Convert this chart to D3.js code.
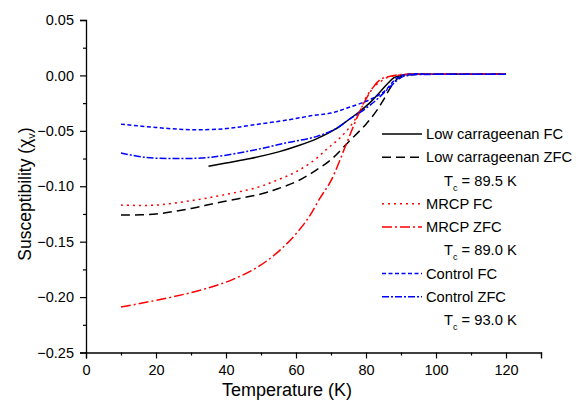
<!DOCTYPE html>
<html>
<head>
<meta charset="utf-8">
<script src="https://cdn.jsdelivr.net/npm/d3@7"></script>
<style>
  html, body { margin: 0; padding: 0; background: #fff; }
  svg { display: block; font-family: "Liberation Sans", Arial, sans-serif; }
</style>
</head>
<body>
<svg id="chart" width="576" height="400"></svg>
<script>
// ---- data ----
const lowFC_T   = [35, 40, 47, 55, 61, 66, 71, 75, 78, 81, 84, 86, 88, 90, 92, 100, 110, 120];
const lowFC_X   = [-0.082, -0.079, -0.075, -0.069, -0.063, -0.057, -0.049, -0.040, -0.033, -0.025, -0.015, -0.008, -0.002, 0.000, 0.001, 0.001, 0.001, 0.001];

const lowZFC_T  = [10, 20, 30, 39, 50, 55, 60, 65, 70, 75, 80, 83, 85, 87, 89, 91, 95, 100, 110, 120];
const lowZFC_X  = [-0.126, -0.125, -0.120, -0.114, -0.107, -0.102, -0.096, -0.087, -0.076, -0.060, -0.044, -0.032, -0.022, -0.011, -0.003, 0.000, 0.001, 0.001, 0.001, 0.001];

const mrcpFC_T  = [10, 20, 30, 39, 49, 55, 60, 65, 69, 72, 75, 78, 80, 82, 84, 86, 89, 92, 100, 110, 120];
const mrcpFC_X  = [-0.117, -0.117, -0.113, -0.108, -0.101, -0.094, -0.087, -0.077, -0.066, -0.058, -0.048, -0.034, -0.020, -0.011, -0.006, -0.002, 0.000, 0.001, 0.001, 0.001, 0.001];

const mrcpZFC_T = [10, 23, 33, 42, 50, 57, 63, 67, 70, 74.5, 78, 81, 84, 88, 92, 100, 110, 120];
const mrcpZFC_X = [-0.209, -0.201, -0.1935, -0.184, -0.171, -0.153, -0.131, -0.110, -0.095, -0.061, -0.034, -0.016, -0.004, 0.000, 0.001, 0.001, 0.001, 0.001];

const ctrlFC_T  = [10, 20, 30, 40, 47, 58, 65, 70, 75, 81, 85, 89, 92, 100, 110, 120];
const ctrlFC_X  = [-0.044, -0.047, -0.049, -0.048, -0.045, -0.040, -0.036, -0.034, -0.029, -0.022, -0.015, -0.002, 0.001, 0.001, 0.001, 0.001];

const ctrlZFC_T = [10, 17, 25, 35, 47, 57, 66, 72, 75, 79, 83, 86, 88, 90, 92, 100, 110, 120];
const ctrlZFC_X = [-0.070, -0.074, -0.075, -0.074, -0.068, -0.061, -0.055, -0.047, -0.040, -0.032, -0.022, -0.013, -0.007, -0.002, 0.000, 0.001, 0.001, 0.001];

const seriesNames = ["Low carrageenan FC", "Low carrageenan ZFC", "MRCP FC", "MRCP ZFC", "Control FC", "Control ZFC"];
const tcLabels = ["89.5 K", "89.0 K", "93.0 K"];

const xTicks = [0, 20, 40, 60, 80, 100, 120];
const xMinor = [10, 30, 50, 70, 90, 110, 130];
const yTicks = [0.05, 0.00, -0.05, -0.10, -0.15, -0.20, -0.25];
const yMinor = [0.025, -0.025, -0.075, -0.125, -0.175, -0.225];

const xTitle = "Temperature (K)";

// ---- styles ----
const styles = [
  { color: "#000000", dash: null },
  { color: "#000000", dash: "9,5" },
  { color: "#ff0000", dash: "2,4" },
  { color: "#ff0000", dash: "10,3,2,3" },
  { color: "#0000ff", dash: "4,2.5" },
  { color: "#0000ff", dash: "7,2,2,2" }
];

const series = [
  [lowFC_T, lowFC_X], [lowZFC_T, lowZFC_X],
  [mrcpFC_T, mrcpFC_X], [mrcpZFC_T, mrcpZFC_X],
  [ctrlFC_T, ctrlFC_X], [ctrlZFC_T, ctrlZFC_X]
].map((p, i) => ({ name: seriesNames[i], pts: p[0].map((t, j) => [t, p[1][j]]), style: styles[i] }));

const svg = d3.select("#chart");
const x = d3.scaleLinear().domain([0, 130]).range([86, 541]);
const y = d3.scaleLinear().domain([-0.25, 0.05]).range([352.5, 20]);

// axes
const gx = svg.append("g").attr("transform", `translate(0,${y(-0.25)})`)
  .call(d3.axisBottom(x).tickValues(xTicks).tickFormat(d3.format("d")).tickSize(6).tickPadding(3));
svg.append("g").attr("transform", `translate(0,${y(-0.25)})`)
  .call(d3.axisBottom(x).tickValues(xMinor).tickFormat("").tickSize(3))
  .select(".domain").remove();
const gy = svg.append("g").attr("transform", `translate(${x(0)},0)`)
  .call(d3.axisLeft(y).tickValues(yTicks).tickFormat(d3.format(".2f")).tickSize(6).tickPadding(6));
svg.append("g").attr("transform", `translate(${x(0)},0)`)
  .call(d3.axisLeft(y).tickValues(yMinor).tickFormat("").tickSize(3))
  .select(".domain").remove();

svg.selectAll(".domain").attr("stroke", "#000").attr("stroke-width", 1.3);
svg.selectAll(".tick line").attr("stroke", "#000").attr("stroke-width", 1.2);
svg.selectAll(".tick text").attr("font-size", 14.5).attr("fill", "#000")
  .attr("font-family", "'Liberation Sans', Arial, sans-serif");
gx.selectAll(".tick text").attr("dy", "0.9em");

// axis titles
svg.append("text").attr("x", 287).attr("y", 396).attr("text-anchor", "middle")
  .attr("font-size", 18).text(xTitle);

const yt = svg.append("text").attr("transform", "translate(31,194) rotate(-90)")
  .attr("text-anchor", "middle").attr("font-size", 17.5);
yt.append("tspan").text("Susceptibility (\u03C7");
yt.append("tspan").attr("font-size", 11).attr("dy", 4).text("v");
yt.append("tspan").attr("dy", -4).text(")");

// lines
const line = d3.line().x(d => x(d[0])).y(d => y(d[1])).curve(d3.curveCatmullRom.alpha(0.5));
svg.append("g").selectAll("path").data(series).join("path")
  .attr("d", d => line(d.pts))
  .attr("fill", "none")
  .attr("stroke", d => d.style.color)
  .attr("stroke-width", 1.5)
  .attr("stroke-dasharray", d => d.style.dash);

// legend
const rowY0 = 134, rowStep = 23.25;
const leg = svg.append("g");
series.forEach((s, i) => {
  const row = Math.floor(i / 2) * 3 + (i % 2);
  const yy = rowY0 + row * rowStep;
  leg.append("line").attr("x1", 382).attr("x2", 422).attr("y1", yy).attr("y2", yy)
    .attr("stroke", s.style.color).attr("stroke-width", 1.5)
    .attr("stroke-dasharray", s.style.dash);
  leg.append("text").attr("x", 426).attr("y", yy).attr("dy", "0.35em")
    .attr("font-size", 14.7).attr("fill", "#000").text(s.name);
});
tcLabels.forEach((tc, k) => {
  const yy = rowY0 + (k * 3 + 2) * rowStep;
  const t = leg.append("text").attr("x", 444).attr("y", yy).attr("dy", "0.35em")
    .attr("font-size", 14.7).attr("fill", "#000");
  t.append("tspan").text("T");
  t.append("tspan").attr("font-size", 9).attr("dy", 5).text("c");
  t.append("tspan").attr("dy", -5).text(" = " + tc);
});
</script>
</body>
</html>
